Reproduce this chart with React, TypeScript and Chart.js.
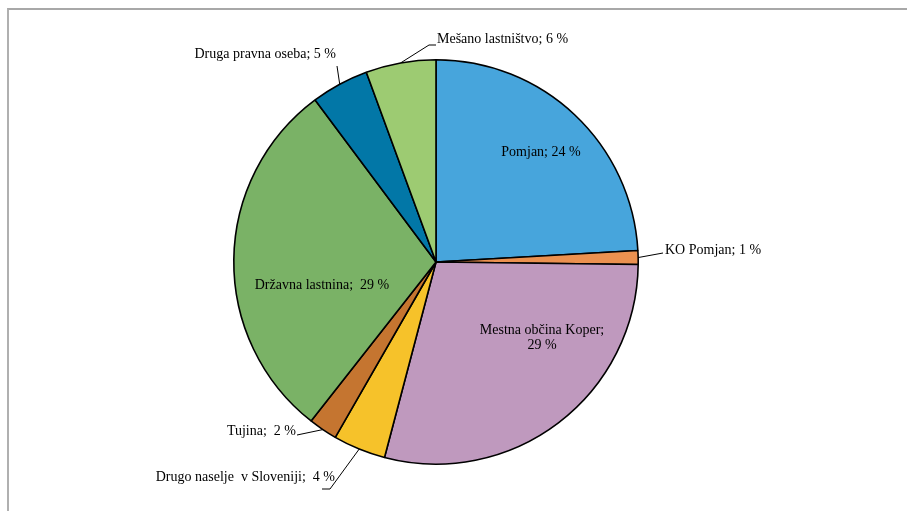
import React, { useEffect, useRef } from "react";
import { Chart, registerables } from "chart.js";

Chart.register(...registerables);

const categories = [
  "Pomjan",
  "KO Pomjan",
  "Mestna občina Koper",
  "Drugo naselje v Sloveniji",
  "Tujina",
  "Državna lastnina",
  "Druga pravna oseba",
  "Mešano lastništvo",
];
const values = [24.1, 1.1, 28.9, 4.2, 2.3, 29.2, 4.6, 5.6];
const percentLabels = [24, 1, 29, 4, 2, 29, 5, 6];
const colors = ["#47A5DC", "#EB9150", "#BF99BE", "#F6C22A", "#C57530", "#7AB266", "#0277A7", "#9DCB72"];

type LabelCfg = {
  lines: string[];
  dx: number;
  dy: number;
  align: CanvasTextAlign;
  leader?: [number, number][];
};

const labelCfg: LabelCfg[] = [
  { lines: ["Pomjan; 24 %"], dx: 105, dy: -110, align: "center" },
  { lines: ["KO Pomjan; 1 %"], dx: 229, dy: -12, align: "left", leader: [[227, -9]] },
  { lines: ["Mestna občina Koper;", "29 %"], dx: 106, dy: 68, align: "center" },
  {
    lines: ["Drugo naselje  v Sloveniji;  4 %"],
    dx: -101,
    dy: 215,
    align: "right",
    leader: [[-106, 227], [-114, 227]],
  },
  { lines: ["Tujina;  2 %"], dx: -140, dy: 169, align: "right", leader: [[-139, 173]] },
  { lines: ["Državna lastnina;  29 %"], dx: -114, dy: 23, align: "center" },
  { lines: ["Druga pravna oseba; 5 %"], dx: -100, dy: -208, align: "right", leader: [[-99, -196]] },
  { lines: ["Mešano lastništvo; 6 %"], dx: 1, dy: -223, align: "left", leader: [[-7, -217], [0, -217]] },
];

const labelPlugin = {
  id: "pieLabels",
  afterDatasetsDraw(chart: any) {
    const ctx = chart.ctx as CanvasRenderingContext2D;
    const meta = chart.getDatasetMeta(0);
    ctx.save();
    ctx.font = '14px "Liberation Serif", "Times New Roman", serif';
    ctx.fillStyle = "#000";
    ctx.strokeStyle = "#000";
    ctx.lineWidth = 1;
    ctx.textBaseline = "middle";
    meta.data.forEach((arc: any, i: number) => {
      const cfg = labelCfg[i];
      if (!cfg) return;
      const cx = arc.x;
      const cy = arc.y;
      if (cfg.leader) {
        const mid = (arc.startAngle + arc.endAngle) / 2;
        const r = arc.outerRadius;
        ctx.beginPath();
        ctx.moveTo(cx + Math.cos(mid) * r, cy + Math.sin(mid) * r);
        cfg.leader.forEach(([lx, ly]) => ctx.lineTo(cx + lx, cy + ly));
        ctx.stroke();
      }
      ctx.textAlign = cfg.align;
      cfg.lines.forEach((ln, k) => {
        ctx.fillText(ln, cx + cfg.dx, cy + cfg.dy + k * 15);
      });
    });
    ctx.restore();
  },
};

export default function App() {
  const ref = useRef<HTMLCanvasElement>(null);
  useEffect(() => {
    if (!ref.current) return;
    const chart = new Chart(ref.current, {
      type: "pie",
      data: {
        labels: categories.map((c, i) => `${c}; ${percentLabels[i]} %`),
        datasets: [
          {
            data: values,
            backgroundColor: colors,
            borderColor: "#000",
            borderWidth: 1.6,
          },
        ],
      },
      options: {
        animation: false,
        responsive: false,
        maintainAspectRatio: false,
        layout: { padding: { left: 233, right: 268, top: 59, bottom: 46 } },
        plugins: {
          legend: { display: false },
          tooltip: { enabled: false },
        },
      },
      plugins: [labelPlugin],
    });
    return () => chart.destroy();
  }, []);
  return (
    <div style={{ position: "fixed", left: 0, top: 0, width: 907, height: 511, background: "#fff", overflow: "hidden" }}>
      <div
        style={{
          position: "absolute",
          left: 7,
          top: 8,
          width: 920,
          height: 520,
          borderTop: "2px solid #a8a8a8",
          borderLeft: "2px solid #b0b0b0",
          boxSizing: "border-box",
        }}
      />
      <canvas ref={ref} width={907} height={511} style={{ position: "absolute", left: 0, top: 0 }} />
    </div>
  );
}
